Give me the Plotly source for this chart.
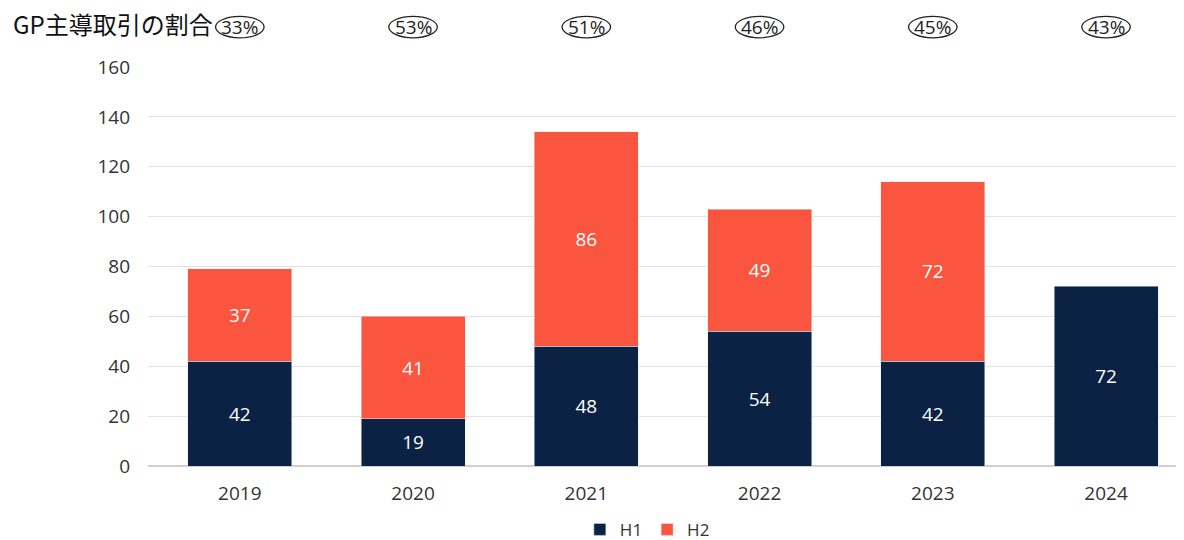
import plotly.graph_objects as go

years = ["2019", "2020", "2021", "2022", "2023", "2024"]
h1 = [42, 19, 48, 54, 42, 72]
h2 = [37, 41, 86, 49, 72, None]
gp_share = ["33%", "53%", "51%", "46%", "45%", "43%"]
y_ticks = [0, 20, 40, 60, 80, 100, 120, 140, 160]

NAVY = "#0b2244"
ORANGE = "#f9553f"
FONT = "Open Sans"
X_RANGE = [-0.53, 5.45]

fig = go.Figure()
fig.add_trace(go.Bar(
    x=years, y=h1, name="H1", marker_color=NAVY, width=0.6,
    text=h1, texttemplate="%{text}", textposition="inside",
    insidetextanchor="middle", textfont=dict(color="white", size=19, family=FONT),
))
fig.add_trace(go.Bar(
    x=years, y=h2, name="H2", marker_color=ORANGE, width=0.6,
    text=h2, texttemplate="%{text}", textposition="inside",
    insidetextanchor="middle", textfont=dict(color="white", size=19, family=FONT),
))

shapes = []
annotations = []
span = X_RANGE[1] - X_RANGE[0]
for i, pct in enumerate(gp_share):
    xp = (i - X_RANGE[0]) / span
    shapes.append(dict(type="circle", xref="x", yref="paper",
                       x0=i - 0.14, x1=i + 0.14, y0=1.073, y1=1.127,
                       line=dict(color="#222222", width=1.3), layer="above"))
    annotations.append(dict(x=xp, y=1.10, xref="paper", yref="paper", text=pct,
                            showarrow=False, font=dict(size=19, color="#222222", family=FONT),
                            xanchor="center", yanchor="middle"))

annotations.append(dict(x=-0.1325, y=1.108, xref="paper", yref="paper", text="GP主導取引の割合",
                        showarrow=False, xanchor="left", yanchor="middle",
                        font=dict(size=24, color="#111111", family="Noto Sans CJK JP")))

fig.update_layout(
    width=1184, height=540,
    barmode="stack",
    plot_bgcolor="white", paper_bgcolor="white",
    margin=dict(l=140, r=8, t=59, b=82, pad=0, autoexpand=False),
    font=dict(family=FONT, size=19, color="#333333"),
    xaxis=dict(range=X_RANGE, showgrid=False, showline=False, ticks="",
               tickfont=dict(size=19, color="#333333"), automargin=False,
               ticklabelstandoff=14),
    yaxis=dict(range=[0, 160], tickvals=y_ticks, showgrid=True, gridcolor="#e3e3e3",
               zeroline=True, zerolinecolor="#d0d0d0", ticks="", showline=False,
               tickfont=dict(size=19, color="#333333"), ticklabelstandoff=17,
               automargin=False),
    legend=dict(orientation="h", x=0.482, xanchor="center", y=-0.160, yanchor="middle",
                traceorder="normal", font=dict(size=17, color="#333333"),
                itemwidth=30, tracegroupgap=0),
    shapes=shapes,
    annotations=annotations,
)

fig.write_html("out.html")
